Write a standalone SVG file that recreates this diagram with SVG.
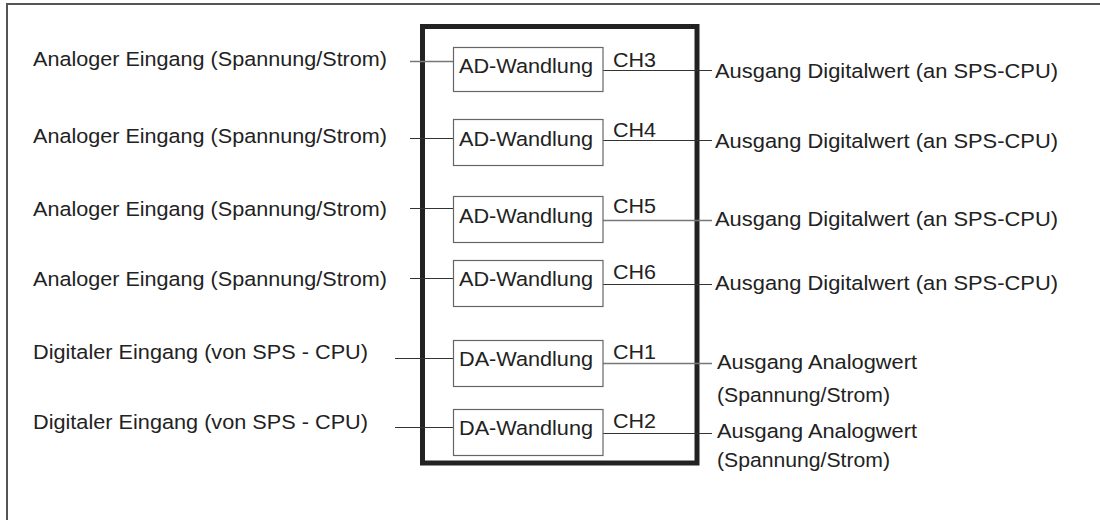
<svg xmlns="http://www.w3.org/2000/svg" width="1100" height="520" viewBox="0 0 1100 520">
<style>
text{font-family:"Liberation Sans",Arial,sans-serif;font-size:20.5px;fill:#222}
.frame{fill:none;stroke:#555;stroke-width:2}
.module{fill:none;stroke:#222;stroke-width:5}
.box{fill:#fff;stroke:#666;stroke-width:1.2}
.wire{stroke:#333;stroke-width:1.2;fill:none}
.wireg{stroke:#777;stroke-width:1.4;fill:none}
</style>
<rect class="frame" x="7" y="4" width="1200" height="600"/>
<rect id="module" class="module" x="422.5" y="26.5" width="274.5" height="436.5"/>
<g id="connectors">
<line class="wireg" x1="410" y1="61.5" x2="453" y2="61.5"/>
<line class="wire" x1="603" y1="70.5" x2="712" y2="70.5"/>
<line class="wire" x1="410" y1="138.5" x2="453" y2="138.5"/>
<line class="wire" x1="603" y1="140.5" x2="712" y2="140.5"/>
<line class="wire" x1="410" y1="208.5" x2="453" y2="208.5"/>
<line class="wireg" x1="603" y1="220.5" x2="712" y2="220.5"/>
<line class="wire" x1="410" y1="278.5" x2="453" y2="278.5"/>
<line class="wire" x1="603" y1="284.5" x2="712" y2="284.5"/>
<line class="wire" x1="395" y1="358.5" x2="453" y2="358.5"/>
<line class="wireg" x1="603" y1="363.5" x2="712" y2="363.5"/>
<line class="wire" x1="395" y1="427.5" x2="453" y2="427.5"/>
<line class="wire" x1="603" y1="433.5" x2="712" y2="433.5"/>
</g>
<g id="in1"><text x="33" y="66" textLength="354" lengthAdjust="spacingAndGlyphs">Analoger Eingang (Spannung/Strom)</text></g>
<g id="in2"><text x="33" y="143" textLength="354" lengthAdjust="spacingAndGlyphs">Analoger Eingang (Spannung/Strom)</text></g>
<g id="in3"><text x="33" y="216" textLength="354" lengthAdjust="spacingAndGlyphs">Analoger Eingang (Spannung/Strom)</text></g>
<g id="in4"><text x="33" y="286" textLength="354" lengthAdjust="spacingAndGlyphs">Analoger Eingang (Spannung/Strom)</text></g>
<g id="in5"><text x="33" y="359" textLength="335" lengthAdjust="spacingAndGlyphs">Digitaler Eingang (von SPS - CPU)</text></g>
<g id="in6"><text x="33" y="429" textLength="335" lengthAdjust="spacingAndGlyphs">Digitaler Eingang (von SPS - CPU)</text></g>
<g id="ad3"><rect class="box" x="453.5" y="47.5" width="149.5" height="44"/><text x="459" y="73" textLength="134" lengthAdjust="spacingAndGlyphs">AD-Wandlung</text><text x="613" y="66.5" textLength="43" lengthAdjust="spacingAndGlyphs">CH3</text></g>
<g id="ad4"><rect class="box" x="453.5" y="119.5" width="149.5" height="46"/><text x="459" y="146" textLength="134" lengthAdjust="spacingAndGlyphs">AD-Wandlung</text><text x="613" y="137" textLength="43" lengthAdjust="spacingAndGlyphs">CH4</text></g>
<g id="ad5"><rect class="box" x="453.5" y="196.5" width="149.5" height="46"/><text x="459" y="223" textLength="134" lengthAdjust="spacingAndGlyphs">AD-Wandlung</text><text x="613" y="213" textLength="43" lengthAdjust="spacingAndGlyphs">CH5</text></g>
<g id="ad6"><rect class="box" x="453.5" y="260.5" width="149.5" height="46"/><text x="459" y="286" textLength="134" lengthAdjust="spacingAndGlyphs">AD-Wandlung</text><text x="613" y="279" textLength="43" lengthAdjust="spacingAndGlyphs">CH6</text></g>
<g id="da1"><rect class="box" x="453.5" y="340.5" width="149.5" height="46"/><text x="459" y="366" textLength="134" lengthAdjust="spacingAndGlyphs">DA-Wandlung</text><text x="613" y="359" textLength="43" lengthAdjust="spacingAndGlyphs">CH1</text></g>
<g id="da2"><rect class="box" x="453.5" y="409.5" width="149.5" height="46"/><text x="459" y="435" textLength="134" lengthAdjust="spacingAndGlyphs">DA-Wandlung</text><text x="613" y="428" textLength="43" lengthAdjust="spacingAndGlyphs">CH2</text></g>
<g id="out3"><text x="715" y="78" textLength="343" lengthAdjust="spacingAndGlyphs">Ausgang Digitalwert (an SPS-CPU)</text></g>
<g id="out4"><text x="715" y="148" textLength="343" lengthAdjust="spacingAndGlyphs">Ausgang Digitalwert (an SPS-CPU)</text></g>
<g id="out5"><text x="715" y="226" textLength="343" lengthAdjust="spacingAndGlyphs">Ausgang Digitalwert (an SPS-CPU)</text></g>
<g id="out6"><text x="715" y="290" textLength="343" lengthAdjust="spacingAndGlyphs">Ausgang Digitalwert (an SPS-CPU)</text></g>
<g id="out1"><text x="717" y="369" textLength="200" lengthAdjust="spacingAndGlyphs">Ausgang Analogwert</text><text x="717" y="402" textLength="173" lengthAdjust="spacingAndGlyphs">(Spannung/Strom)</text></g>
<g id="out2"><text x="717" y="438" textLength="200" lengthAdjust="spacingAndGlyphs">Ausgang Analogwert</text><text x="717" y="467" textLength="173" lengthAdjust="spacingAndGlyphs">(Spannung/Strom)</text></g>
</svg>
